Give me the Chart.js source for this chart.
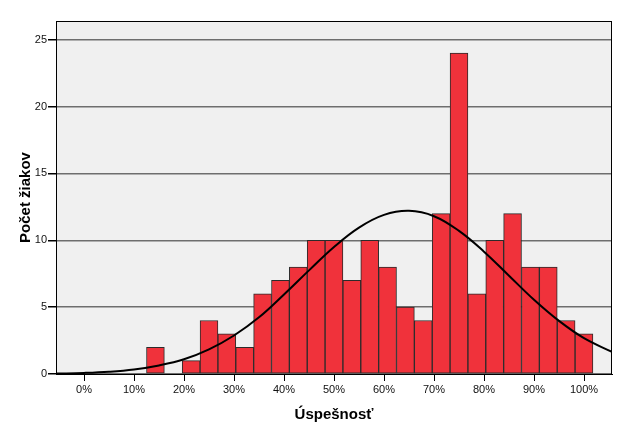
<!DOCTYPE html>
<html>
<head>
<meta charset="utf-8">
<script src="https://cdn.jsdelivr.net/npm/chart.js@4/dist/chart.umd.min.js"></script>
<style>
    html, body { margin: 0; padding: 0; background: #fff; }
    #wrap { width: 625px; height: 424px; }
</style>
</head>
<body>
<div id="wrap"><canvas id="chart" width="625" height="424"></canvas></div>
<script>
// Histogram bins: score in points (out of 28), shown as percent
const maxPoints = 28;
const binPoints = [4, 5, 6, 7, 8, 9, 10, 11, 12, 13, 14, 15, 16, 17, 18, 19, 20, 21, 22, 23, 24, 25, 26, 27, 28];
const binCounts = [2, 0, 1, 4, 3, 2, 6, 7, 8, 10, 10, 7, 10, 8, 5, 4, 12, 24, 6, 10, 12, 8, 8, 4, 3];

// Normal curve
const curveX = [-5.6, 0, 5, 10, 15, 20, 25, 30, 35, 40, 45, 50, 55, 60, 65, 70, 75, 80, 85, 90, 95, 100, 105.6];
const curveY = [0.03, 0.08, 0.17, 0.34, 0.64, 1.1, 1.84, 2.88, 4.24, 5.95, 7.75, 9.5, 10.95, 11.9, 12.2, 11.8, 10.7, 9.15, 7.35, 5.55, 3.97, 2.68, 1.65];

const xTicks = [0, 10, 20, 30, 40, 50, 60, 70, 80, 90, 100];
const yTicks = [0, 5, 10, 15, 20, 25];

const xTitle = 'Úspešnosť';
const yTitle = 'Počet žiakov';

const barData = binPoints.map((p, i) => ({ x: p / maxPoints * 100, y: binCounts[i] }));
const lineData = curveX.map((x, i) => ({ x: x, y: curveY[i] }));

// Grey plot background and box around the plot
const plotBox = {
    id: 'plotBox',
    beforeDraw(chart) {
        const a = chart.chartArea;
        const ctx = chart.ctx;
        ctx.save();
        ctx.fillStyle = '#f0f0f0';
        ctx.fillRect(a.left, a.top, a.right - a.left, a.bottom - a.top);
        ctx.restore();
    },
    afterDraw(chart) {
        const a = chart.chartArea;
        const ctx = chart.ctx;
        ctx.save();
        ctx.strokeStyle = '#000';
        ctx.lineWidth = 1;
        ctx.strokeRect(a.left + 0.5, a.top + 0.5, a.right - a.left - 1, a.bottom - a.top);
        ctx.restore();
    }
};

const tickFont = { family: 'Liberation Sans, Arial, sans-serif', size: 11 };
const titleFont = { family: 'Liberation Sans, Arial, sans-serif', size: 15, weight: 'bold' };

new Chart(document.getElementById('chart').getContext('2d'), {
    type: 'bar',
    data: {
        datasets: [{
            type: 'line',
            data: lineData,
            borderColor: '#000',
            borderWidth: 2,
            pointRadius: 0,
            fill: false,
            tension: 0.4,
            order: 0
        }, {
            type: 'bar',
            data: barData,
            backgroundColor: '#f0323b',
            borderColor: '#2b2b2b',
            borderWidth: 1,
            borderSkipped: false,
            barPercentage: 1,
            categoryPercentage: 1,
            order: 1
        }]
    },
    options: {
        responsive: false,
        animation: false,
        layout: { padding: { left: 0, right: 13, top: 21, bottom: 0 } },
        plugins: {
            legend: { display: false },
            tooltip: { enabled: false }
        },
        scales: {
            x: {
                type: 'linear',
                min: -5.6,
                max: 105.6,
                offset: false,
                afterBuildTicks: scale => { scale.ticks = xTicks.map(v => ({ value: v })); },
                afterFit: scale => { scale.height = 50; },
                ticks: {
                    color: '#111',
                    font: tickFont,
                    padding: 2,
                    maxRotation: 0,
                    callback: v => v + '%'
                },
                grid: {
                    offset: false,
                    drawOnChartArea: false,
                    drawTicks: true,
                    tickLength: 7,
                    tickColor: '#000'
                },
                border: { color: '#000', width: 1 },
                title: {
                    display: true,
                    text: xTitle,
                    color: '#000',
                    font: titleFont,
                    padding: { top: 0, bottom: 0 }
                }
            },
            y: {
                min: 0,
                max: 26.4,
                afterBuildTicks: scale => { scale.ticks = yTicks.map(v => ({ value: v })); },
                afterFit: scale => { scale.width = 56; },
                ticks: {
                    color: '#111',
                    font: tickFont,
                    padding: 1
                },
                grid: {
                    color: '#6e6e6e',
                    lineWidth: 1.5,
                    drawTicks: true,
                    tickLength: 8,
                    tickColor: '#000'
                },
                border: { color: '#000', width: 1 },
                title: {
                    display: true,
                    text: yTitle,
                    color: '#000',
                    font: titleFont,
                    padding: { top: 17, bottom: 0 }
                }
            }
        }
    },
    plugins: [plotBox]
});
</script>
</body>
</html>
